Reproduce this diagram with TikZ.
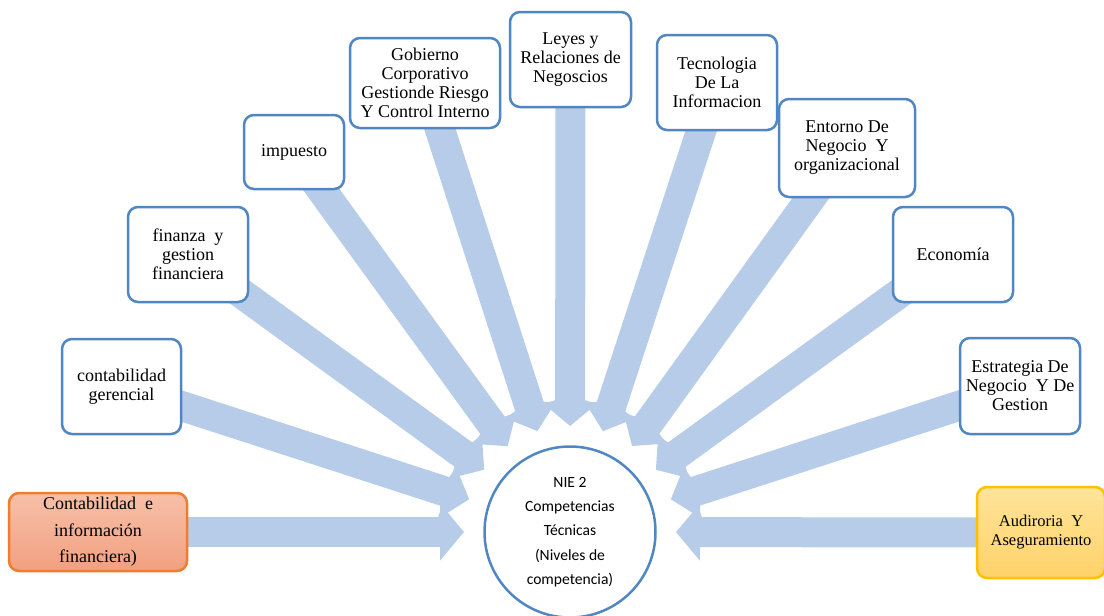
\documentclass[tikz,border=0pt]{standalone}
\usepackage{fontspec}
\setmainfont{Liberation Serif}
\newfontfamily\calibrifont{Carlito}
\usetikzlibrary{arrows.meta,calc,backgrounds}
\definecolor{boxblue}{RGB}{80,135,195}
\definecolor{arrowblue}{RGB}{183,204,232}
\definecolor{orangeborder}{RGB}{237,125,49}
\definecolor{orangetop}{RGB}{247,192,168}
\definecolor{orangebot}{RGB}{242,160,128}
\definecolor{yellowborder}{RGB}{255,192,0}
\definecolor{yellowtop}{RGB}{255,228,155}
\definecolor{yellowbot}{RGB}{255,210,105}
\tikzset{
  topic/.style={draw=boxblue, line width=2.5pt, rounded corners=10pt, fill=white,
    inner sep=0pt, align=center, font=\fontsize{18}{19}\selectfont},
  bigarrow/.style={draw=arrowblue, line width=30pt, -{Triangle[width=56pt,length=24pt]}},
  hub/.style={circle, draw=boxblue, line width=2.5pt, fill=white, minimum size=171pt,
    inner sep=0pt, align=center, font=\calibrifont\fontsize{15.6}{24.3}\selectfont},
}
\begin{document}
\begin{tikzpicture}[x=1pt,y=-1pt]
\useasboundingbox (0,0) rectangle (1104,616);
\node[hub] (hub) at (570,532) {NIE 2\\Competencias\\Técnicas\\(Niveles de\\competencia)};
\node[topic, draw=orangeborder, top color=orangetop, bottom color=orangebot,
  minimum width=178pt, minimum height=78pt, font=\fontsize{18}{26.5}\selectfont]
  (cont) at (98,532) {Contabilidad \ e\\información\\financiera)};
\node[topic, minimum width=119pt, minimum height=95pt] (ger) at (121.5,386.5) {contabilidad\\gerencial};
\node[topic, minimum width=120pt, minimum height=95pt] (fin) at (188,254.5) {finanza \ y\\gestion\\financiera};
\node[topic, minimum width=100pt, minimum height=74pt] (imp) at (294,152) {impuesto};
\node[topic, minimum width=150pt, minimum height=90pt] (gob) at (425,83) {Gobierno\\Corporativo\\Gestionde Riesgo\\Y Control Interno};
\node[topic, minimum width=121pt, minimum height=95pt] (ley) at (570.5,59.5) {Leyes y\\Relaciones de\\Negoscios};
\node[topic, minimum width=120pt, minimum height=95pt] (tec) at (717,82.5) {Tecnologia\\De La\\Informacion};
\node[topic, minimum width=136pt, minimum height=98pt] (ent) at (847,148) {Entorno De\\Negocio \ Y\\organizacional};
\node[topic, minimum width=120pt, minimum height=95pt] (eco) at (953,254.5) {Economía};
\node[topic, minimum width=120pt, minimum height=96pt] (est) at (1020,386) {Estrategia De\\Negocio \ Y De\\Gestion};
\node[topic, draw=yellowborder, top color=yellowtop, bottom color=yellowbot,
  minimum width=128pt, minimum height=91pt, font=\fontsize{16.5}{19}\selectfont]
  (aud) at (1041,532.5) {Audiroria \ Y\\Aseguramiento};
\begin{scope}[on background layer]
\foreach \n in {cont,ger,fin,imp,gob,ley,tec,ent,eco,est,aud}{
  \draw[bigarrow] (\n.center) -- ($(hub.center)!106pt!(\n.center)$);
}
\end{scope}
\end{tikzpicture}
\end{document}
